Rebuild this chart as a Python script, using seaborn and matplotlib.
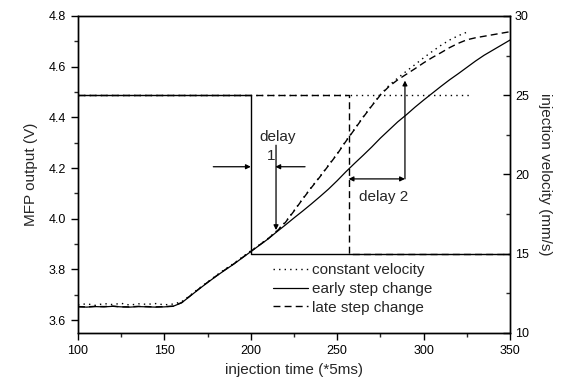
import numpy as np
import pandas as pd
import matplotlib
matplotlib.use("Agg")
import matplotlib.pyplot as plt
from matplotlib.ticker import MultipleLocator
import seaborn as sns

# ---------------- data ----------------
time = [100, 105, 110, 115, 120, 125, 130, 135, 140, 145, 150, 155, 160, 165, 170,
        175, 180, 185, 190, 195, 200, 205, 210, 215, 220, 225, 230, 235, 240, 245,
        250, 255, 260, 265, 270, 275, 280, 285, 290, 295, 300, 305, 310, 315, 320,
        325, 330, 335, 340, 345, 350]

early_mfp = [3.652, 3.651, 3.653, 3.652, 3.654, 3.652, 3.651, 3.653, 3.652, 3.651,
             3.652, 3.654, 3.668, 3.695, 3.722, 3.748, 3.773, 3.797, 3.820, 3.845,
             3.870, 3.895, 3.920, 3.948, 3.975, 4.003, 4.030, 4.058, 4.087, 4.117,
             4.150, 4.185, 4.218, 4.250, 4.283, 4.318, 4.350, 4.382, 4.410, 4.440,
             4.468, 4.495, 4.522, 4.548, 4.572, 4.597, 4.622, 4.645, 4.665, 4.685,
             4.705]

late_mfp = [3.653, 3.652, 3.654, 3.653, 3.655, 3.652, 3.652, 3.654, 3.653, 3.652,
            3.653, 3.655, 3.669, 3.696, 3.723, 3.749, 3.774, 3.798, 3.821, 3.846,
            3.871, 3.896, 3.921, 3.950, 3.985, 4.030, 4.077, 4.122, 4.165, 4.210,
            4.255, 4.305, 4.352, 4.400, 4.445, 4.488, 4.522, 4.548, 4.570, 4.592,
            4.615, 4.636, 4.655, 4.675, 4.692, 4.706, 4.714, 4.720, 4.726, 4.732,
            4.738]

const_time = [100, 105, 110, 115, 120, 125, 130, 135, 140, 145, 150, 155, 160, 165,
              170, 175, 180, 185, 190, 195, 200, 205, 210, 215, 220, 225, 230, 235,
              240, 245, 250, 255, 260, 265, 270, 275, 280, 285, 290, 295, 300, 305,
              310, 315, 320, 325]
const_mfp = [3.660, 3.664, 3.658, 3.665, 3.661, 3.666, 3.659, 3.664, 3.662, 3.665,
             3.660, 3.663, 3.672, 3.698, 3.725, 3.750, 3.776, 3.800, 3.823, 3.848,
             3.873, 3.897, 3.922, 3.952, 3.987, 4.032, 4.079, 4.124, 4.167, 4.212,
             4.257, 4.307, 4.354, 4.402, 4.447, 4.490, 4.526, 4.555, 4.582, 4.608,
             4.635, 4.660, 4.684, 4.705, 4.722, 4.736]

# injection velocity profiles (mm/s)
vel_const_t = [100, 326]
vel_const_v = [25, 25]
vel_early_t = [100, 200, 200, 350]
vel_early_v = [25, 25, 15, 15]
vel_late_t = [100, 257, 257, 350]
vel_late_v = [25, 25, 15, 15]

labels = ["constant velocity", "early step change", "late step change"]

# ---------------- styling ----------------
sns.set_theme(style="ticks")
plt.rcParams["font.family"] = ["Liberation Sans", "DejaVu Sans"]
plt.rcParams["axes.linewidth"] = 1.0

DOT = (0, (1, 3))
DASH = (0, (5, 3))

fig, ax = plt.subplots(figsize=(5.63, 3.87), dpi=100)
fig.subplots_adjust(left=0.1385, right=0.9059, top=0.9587, bottom=0.1403)
ax2 = ax.twinx()

# MFP output curves
sns.lineplot(x=const_time, y=const_mfp, ax=ax, color="black", lw=1.0,
             linestyle=DOT, label=labels[0], sort=False, estimator=None)
sns.lineplot(x=time, y=early_mfp, ax=ax, color="black", lw=0.9,
             linestyle="-", label=labels[1], sort=False, estimator=None)
sns.lineplot(x=time, y=late_mfp, ax=ax, color="black", lw=1.0,
             linestyle=DASH, label=labels[2], sort=False, estimator=None)

# velocity profiles
sns.lineplot(x=vel_const_t, y=vel_const_v, ax=ax2, color="black", lw=1.0,
             linestyle=DOT, sort=False, estimator=None)
sns.lineplot(x=vel_early_t, y=vel_early_v, ax=ax2, color="black", lw=1.0,
             linestyle="-", sort=False, estimator=None)
sns.lineplot(x=vel_late_t, y=vel_late_v, ax=ax2, color="black", lw=1.0,
             linestyle=DASH, sort=False, estimator=None)

# axes limits & ticks
ax.set_xlim(100, 350)
ax.set_ylim(3.55, 4.8)
ax2.set_ylim(10, 30)
ax.xaxis.set_major_locator(MultipleLocator(50))
ax.xaxis.set_minor_locator(MultipleLocator(25))
ax.yaxis.set_major_locator(MultipleLocator(0.2))
ax.yaxis.set_minor_locator(MultipleLocator(0.1))
ax2.yaxis.set_major_locator(MultipleLocator(5))
ax2.yaxis.set_minor_locator(MultipleLocator(2.5))
ax.set_yticks([3.6, 3.8, 4.0, 4.2, 4.4, 4.6, 4.8])
ax.set_yticklabels(["3.6", "3.8", "4.0", "4.2", "4.4", "4.6", "4.8"])

ax.tick_params(which="major", direction="out", length=5, width=1,
               labelsize=9, colors="black")
ax.tick_params(which="minor", direction="out", length=3, width=1)
ax2.tick_params(which="major", direction="in", length=5, width=1,
                labelsize=9, colors="black")
ax2.tick_params(which="minor", direction="in", length=3, width=1)

for a in (ax, ax2):
    for s in a.spines.values():
        s.set_visible(True)
        s.set_color("black")
        s.set_linewidth(1.0)

ax.set_xlabel("injection time (*5ms)", fontsize=11, labelpad=5)
ax.set_ylabel("MFP output (V)", fontsize=11, labelpad=8)
ax2.set_ylabel("injection velocity (mm/s)", fontsize=11, rotation=270,
               labelpad=17)

# legend
leg = ax.legend(loc="upper left", bbox_to_anchor=(0.4507, 0.219),
                frameon=False, fontsize=11, handlelength=2.3,
                handletextpad=0.3, labelspacing=0.31, borderpad=0,
                borderaxespad=0)

# annotations (delay 1)
arw = dict(arrowstyle="-|>", color="black", lw=0.9,
           mutation_scale=7, shrinkA=0, shrinkB=0)
ax.annotate("", xy=(200, 4.205), xytext=(178.3, 4.205), arrowprops=arw)
ax.annotate("", xy=(214.2, 4.205), xytext=(231.4, 4.205), arrowprops=arw)
ax.annotate("", xy=(214.6, 3.955), xytext=(214.6, 4.29), arrowprops=arw)
ax.text(215.3, 4.322, "delay", fontsize=11, ha="center", va="center")
ax.text(211.5, 4.248, "1", fontsize=11, ha="center", va="center")

# annotations (delay 2)
arw2 = dict(arrowstyle="<|-|>", color="black", lw=0.9,
            mutation_scale=7, shrinkA=0, shrinkB=0)
ax.annotate("", xy=(256.6, 4.157), xytext=(289.2, 4.157), arrowprops=arw2)
ax.annotate("", xy=(289.2, 4.545), xytext=(289.2, 4.157), arrowprops=arw)
ax.text(276.6, 4.085, "delay 2", fontsize=11, ha="center", va="center")

fig.savefig("out.png", dpi=100)
